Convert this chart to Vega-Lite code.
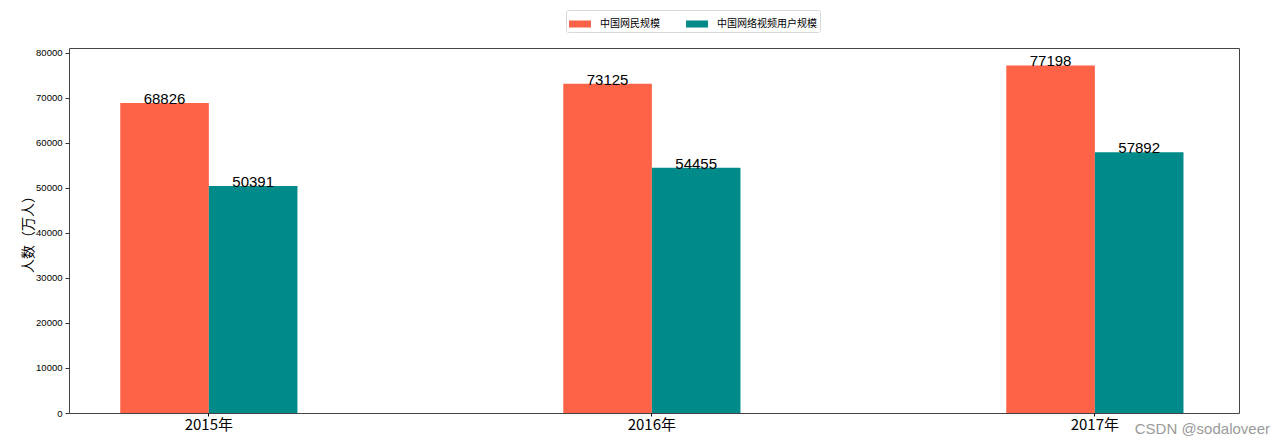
{
  "$schema": "https://vega.github.io/schema/vega-lite/v6.json",
  "autosize": "none",
  "padding": {"left": 69, "top": 48, "right": 48, "bottom": 34},
  "width": 1170,
  "height": 365,
  "background": "white",
  "title": {
    "text": "CSDN @sodaloveer",
    "orient": "bottom",
    "anchor": "end",
    "frame": "group",
    "dx": 31,
    "offset": -10,
    "font": "Liberation Sans",
    "fontSize": 15,
    "fontWeight": "normal",
    "color": "#9a9a9a"
  },
  "data": {
    "values": [
      {"year": "2015年", "series": "中国网民规模", "value": 68826},
      {"year": "2015年", "series": "中国网络视频用户规模", "value": 50391},
      {"year": "2016年", "series": "中国网民规模", "value": 73125},
      {"year": "2016年", "series": "中国网络视频用户规模", "value": 54455},
      {"year": "2017年", "series": "中国网民规模", "value": 77198},
      {"year": "2017年", "series": "中国网络视频用户规模", "value": 57892}
    ]
  },
  "encoding": {
    "x": {
      "field": "year",
      "type": "nominal",
      "title": null,
      "scale": {"paddingInner": 0.6, "paddingOuter": 0.1205, "align": 0.48},
      "axis": {
        "labelAngle": 0,
        "labelFont": "Noto Sans CJK SC",
        "labelFontSize": 15,
        "labelColor": "#000",
        "labelPadding": 1,
        "tickSize": 3,
        "tickColor": "#000",
        "domain": false
      }
    },
    "xOffset": {
      "field": "series",
      "type": "nominal",
      "sort": ["中国网民规模", "中国网络视频用户规模"],
      "scale": {"paddingInner": 0, "paddingOuter": 0}
    },
    "y": {
      "field": "value",
      "type": "quantitative",
      "title": "人数（万人）",
      "scale": {"domain": [0, 81058], "nice": false, "zero": true},
      "axis": {
        "values": [0, 10000, 20000, 30000, 40000, 50000, 60000, 70000, 80000],
        "format": "d",
        "grid": false,
        "domain": false,
        "labelFont": "Liberation Sans",
        "labelFontSize": 9.5,
        "labelColor": "#000",
        "tickSize": 4,
        "tickColor": "#333",
        "labelPadding": 3,
        "titleFont": "Noto Sans CJK SC",
        "titleFontSize": 14,
        "titleFontWeight": "normal",
        "titleColor": "#000",
        "titlePadding": 0
      }
    }
  },
  "layer": [
    {
      "mark": {"type": "bar"},
      "encoding": {
        "color": {
          "field": "series",
          "type": "nominal",
          "title": null,
          "sort": ["中国网民规模", "中国网络视频用户规模"],
          "scale": {"range": ["#ff6347", "#008b8a"]},
          "legend": {
            "orient": "none",
            "direction": "horizontal",
            "legendX": 497,
            "legendY": -38,
            "symbolType": "M-1,-0.32L1,-0.32L1,0.32L-1,0.32Z",
            "symbolSize": 484,
            "symbolStrokeWidth": 0,
            "symbolOpacity": 1,
            "labelFont": "Noto Sans CJK SC",
            "labelFontSize": 10,
            "labelColor": "#000",
            "labelOffset": 9,
            "columnPadding": 26,
            "strokeColor": "#d8d8d8",
            "fillColor": "white",
            "padding": 3,
            "cornerRadius": 2
          }
        }
      }
    },
    {
      "mark": {
        "type": "text",
        "baseline": "bottom",
        "align": "center",
        "dy": 4,
        "font": "Liberation Sans",
        "fontSize": 15,
        "color": "#000"
      },
      "encoding": {
        "text": {"field": "value", "type": "quantitative", "format": "d"}
      }
    }
  ],
  "config": {
    "view": {"stroke": "#444", "strokeWidth": 1}
  }
}
